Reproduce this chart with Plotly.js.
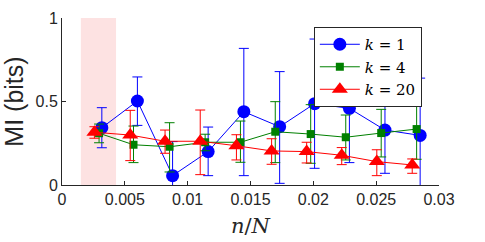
<!DOCTYPE html>
<html>
<head>
<meta charset="utf-8">
<script src="https://cdn.plot.ly/plotly-3.0.1.min.js"></script>
<style>html,body{margin:0;padding:0;background:#fff;}#chart{width:485px;height:242px;}</style>
</head>
<body>
<div id="chart"></div>
<script>
// k = 1
const x1 = [0.00317, 0.0060, 0.0088, 0.01163, 0.01447, 0.01732, 0.0201, 0.02287, 0.0257, 0.0285];
const y1 = [0.343, 0.503, 0.056, 0.200, 0.439, 0.349, 0.487, 0.459, 0.329, 0.297];
const up1 = [0.463, 0.647, 0.260, 0.347, 0.818, 0.679, 0.874, 0.784, 0.590, 0.640];
const lo1 = [0.223, 0.357, -0.10, 0.056, 0.056, 0.010, 0.100, 0.134, 0.070, -0.05];
// k = 4
const x4 = [0.00295, 0.00569, 0.00856, 0.01139, 0.0142, 0.01697, 0.01979, 0.02258, 0.0254, 0.02822];
const y4 = [0.310, 0.241, 0.229, 0.256, 0.256, 0.319, 0.305, 0.286, 0.311, 0.335];
const up4 = [0.365, 0.353, 0.373, 0.304, 0.383, 0.499, 0.481, 0.419, 0.453, 0.517];
const lo4 = [0.253, 0.134, 0.078, 0.205, 0.136, 0.134, 0.130, 0.150, 0.168, 0.154];
// k = 20
const x20 = [0.00258, 0.00543, 0.0082, 0.0110, 0.01388, 0.01668, 0.01947, 0.02226, 0.02505, 0.02787];
const y20 = [0.316, 0.299, 0.262, 0.262, 0.235, 0.204, 0.200, 0.178, 0.140, 0.120];
const up20 = [0.349, 0.447, 0.329, 0.449, 0.301, 0.277, 0.256, 0.224, 0.211, 0.156];
const lo20 = [0.280, 0.146, 0.190, 0.062, 0.150, 0.124, 0.132, 0.122, 0.056, 0.070];
// shaded region
const shadeStart = 0.0015;
const shadeEnd = 0.0043;
const xTicks = [0, 0.005, 0.01, 0.015, 0.02, 0.025, 0.03];
const xTickText = ['0', '0.005', '0.01', '0.015', '0.02', '0.025', '0.03'];
const yTicks = [0, 0.5, 1];
const yTickText = ['0', '0.5', '1'];

function mk(x, y, up, lo, name, color, symbol, size) {
  return {
    x: x, y: y, name: name, type: 'scatter', mode: 'lines+markers',
    line: {color: color, width: 1},
    marker: {color: color, symbol: symbol, size: size, line: {width: 0}},
    error_y: {
      type: 'data', symmetric: false,
      array: y.map((v, i) => up[i] - v),
      arrayminus: y.map((v, i) => v - lo[i]),
      color: color, thickness: 1, width: 5
    },
    cliponaxis: true
  };
}

const traces = [
  mk(x1, y1, up1, lo1, '<i>k</i> = 1', '#0000ff', 'circle', 13),
  mk(x4, y4, up4, lo4, '<i>k</i> = 4', '#008000', 'square', 8),
  mk(x20, y20, up20, lo20, '<i>k</i> = 20', '#ff0000', 'triangle-up', 14)
];

const layout = {
  width: 485, height: 242,
  margin: {l: 62, r: 46, t: 18, b: 57},
  paper_bgcolor: '#fff', plot_bgcolor: '#fff',
  font: {family: 'Liberation Sans, Arial, sans-serif', size: 16, color: '#262626'},
  showlegend: true,
  xaxis: {
    range: [0, 0.03], tickvals: xTicks, ticktext: xTickText,
    showgrid: false, zeroline: false, showline: true, linecolor: '#262626', linewidth: 1,
    ticks: 'inside', ticklen: 4, tickcolor: '#262626',
    tickfont: {size: 16, color: '#262626'},
    title: {text: '<i>n</i>/<i>N</i>', font: {family: 'DejaVu Serif, Liberation Serif, serif', size: 21, color: '#262626'}, standoff: 11}
  },
  yaxis: {
    range: [0, 1], tickvals: yTicks, ticktext: yTickText,
    showgrid: false, zeroline: false, showline: true, linecolor: '#262626', linewidth: 1,
    ticks: 'inside', ticklen: 4, tickcolor: '#262626',
    tickfont: {size: 16, color: '#262626'},
    title: {text: 'MI (bits)', font: {size: 25, color: '#262626'}, standoff: 6}
  },
  legend: {
    x: 0.668, y: 0.946, xanchor: 'left', yanchor: 'top',
    bgcolor: '#ffffff', bordercolor: '#262626', borderwidth: 1,
    font: {family: 'DejaVu Serif, Liberation Serif, serif', size: 15, color: '#000'},
    tracegroupgap: 0, itemwidth: 40
  },
  shapes: [{
    type: 'rect', xref: 'x', yref: 'y', x0: shadeStart, x1: shadeEnd, y0: 0, y1: 1,
    fillcolor: '#fde2e2', line: {width: 0}, layer: 'below'
  }]
};

Plotly.newPlot('chart', traces, layout, {displayModeBar: false, staticPlot: true});
</script>
</body>
</html>
